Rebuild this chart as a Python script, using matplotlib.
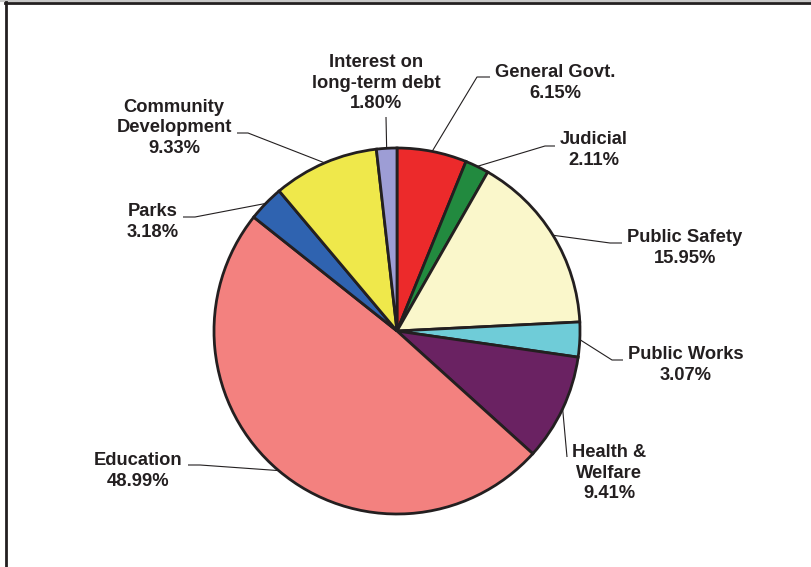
import numpy as np
import matplotlib
matplotlib.use("Agg")
import matplotlib.pyplot as plt
from matplotlib.lines import Line2D

# ---- data ----
categories = ["General Govt.", "Judicial", "Public Safety", "Public Works",
              "Health &\nWelfare", "Education", "Parks",
              "Community\nDevelopment", "Interest on\nlong-term debt"]
shares = [6.15, 2.11, 15.95, 3.07, 9.41, 48.99, 3.18, 9.33, 1.80]
colors = ["#EC2A2B", "#228A3F", "#FAF7CB", "#6FCCD8", "#6A2262",
          "#F3817F", "#2F63B0", "#EFE84B", "#9D9DD5"]

# ---- layout (pixels, origin top-left) ----
W, H = 811, 567
CX, CY, R = 397, 331, 183
text_pos = [(555, 83), (594, 150), (685, 248), (686, 365), (609, 473),
            (138, 471), (153, 222), (174, 128), (376, 83)]
leader_pts = [[(477, 77), (490, 77)],
              [(545, 146), (555, 146)],
              [(610, 243), (622, 243)],
              [(612, 360), (623, 360)],
              [(567, 457)],
              [(200, 465), (188, 465)],
              [(195, 217), (183, 217)],
              [(248, 133), (237, 133)],
              [(386, 117)]]

dark = "#231F20"
plt.rcParams['font.family'] = ['Liberation Sans', 'DejaVu Sans']

fig = plt.figure(figsize=(W / 100, H / 100), dpi=100)
ax = fig.add_axes([0, 0, 1, 1])

wedges, _ = ax.pie(shares, colors=colors, startangle=90, counterclock=False,
                   center=(CX, H - CY), radius=R,
                   wedgeprops=dict(edgecolor=dark, linewidth=2.0))
ax.set_xlim(0, W)
ax.set_ylim(0, H)
ax.set_aspect('equal')
ax.axis('off')

for w, cat, val, tp, pts in zip(wedges, categories, shares, text_pos, leader_pts):
    mid = np.deg2rad((w.theta1 + w.theta2) / 2)
    ex = CX + R * np.cos(mid)
    ey = (H - CY) + R * np.sin(mid)
    xs = [ex] + [p[0] for p in pts]
    ys = [ey] + [H - p[1] for p in pts]
    ax.plot(xs, ys, color=dark, lw=0.8, zorder=0.5, solid_capstyle='butt')
    ax.text(tp[0], H - tp[1], f"{cat}\n{val:.2f}%", ha='center', va='center',
            fontsize=13.2, fontweight='bold', color=dark, linespacing=1.3)

# frame lines
fig.add_artist(Line2D([0, 1], [1 - 0.5 / H, 1 - 0.5 / H], transform=fig.transFigure,
                      color="#C8C8C8", lw=1.5))
fig.add_artist(Line2D([5 / W, 1], [1 - 2.5 / H, 1 - 2.5 / H], transform=fig.transFigure,
                      color=dark, lw=2))
fig.add_artist(Line2D([5.5 / W, 5.5 / W], [0, 1 - 2 / H], transform=fig.transFigure,
                      color=dark, lw=2))

fig.savefig("out.png", dpi=100)
